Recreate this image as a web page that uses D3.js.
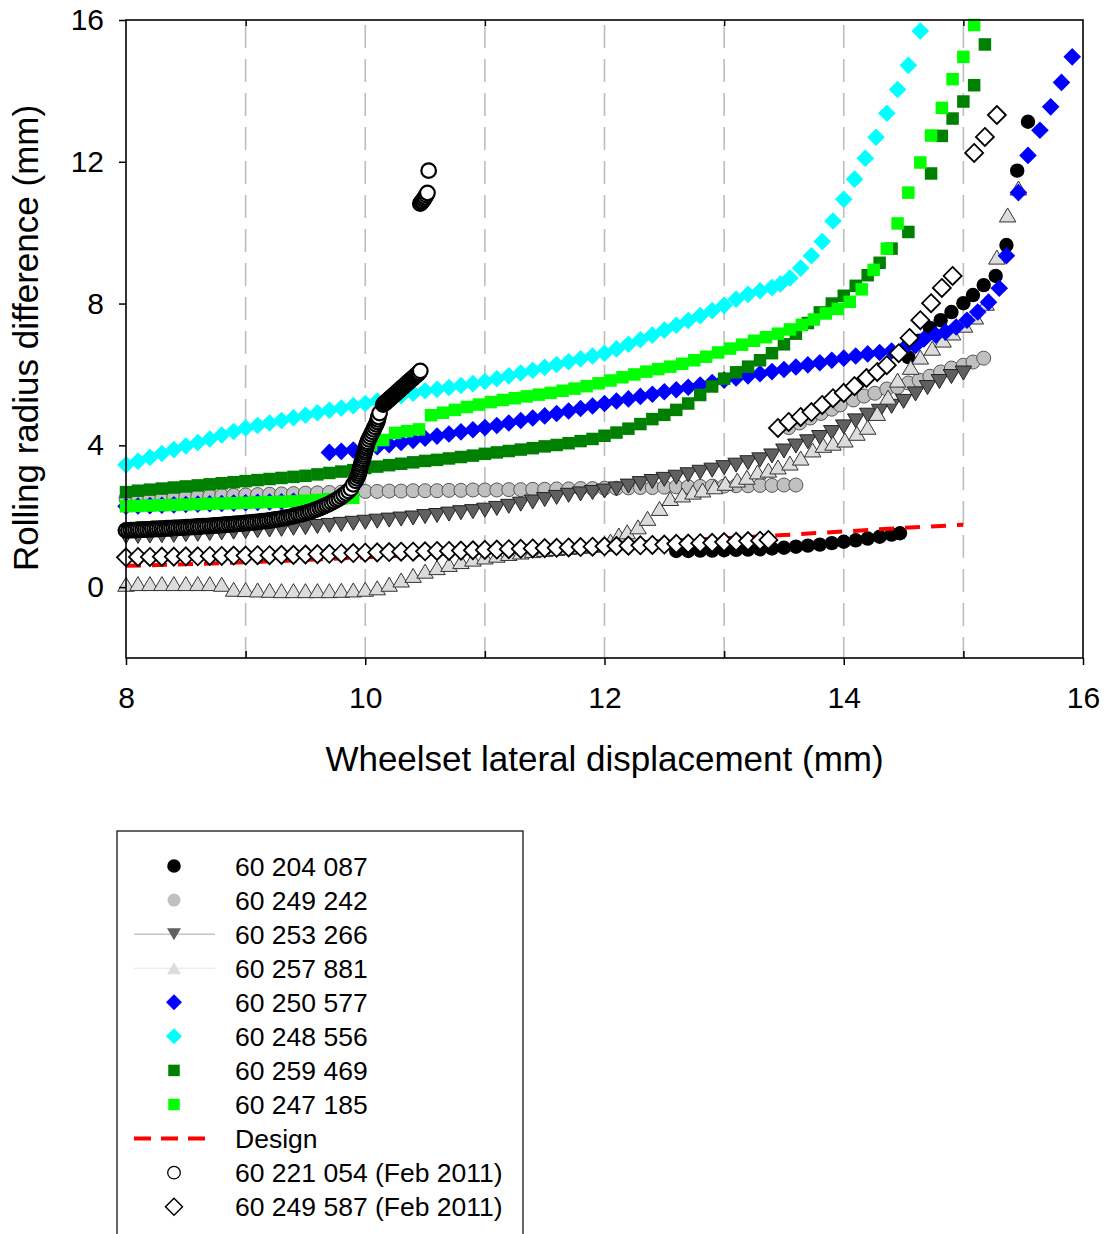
<!DOCTYPE html>
<html><head><meta charset="utf-8">
<script src="https://cdn.jsdelivr.net/npm/d3@7"></script>
<style>
body{margin:0;background:#fff}
svg{display:block}
text{font-family:"Liberation Sans",Arial,sans-serif;fill:#000}
</style>
</head><body>
<svg id="c" width="1109" height="1234"></svg>
<script>
// ---------- DATA ----------
const xTicks = [8, 10, 12, 14, 16];
const xMinorTicks = [9, 11, 13, 15];
const yTicks = [0, 4, 8, 12, 16];
const xTitle = "Wheelset lateral displacement (mm)";
const yTitle = "Rolling radius difference (mm)";
const legendLabels = ["60 204 087","60 249 242","60 253 266","60 257 881","60 250 577","60 248 556","60 259 469","60 247 185","Design","60 221 054 (Feb 2011)","60 249 587 (Feb 2011)"];

const s60204087 = [[12.6,1.02],[12.7,1.02],[12.8,1.03],[12.9,1.03],[13.0,1.04],[13.1,1.05],[13.2,1.06],[13.3,1.07],[13.4,1.09],[13.5,1.11],[13.6,1.14],[13.7,1.17],[13.8,1.2],[13.9,1.24],[14.0,1.28],[14.1,1.32],[14.2,1.37],[14.3,1.42],[14.4,1.48],[14.47,1.52],
[14.54,6.49],[14.63,6.95],[14.72,7.31],[14.81,7.53],[14.9,7.76],[15.0,8.01],[15.08,8.24],[15.17,8.52],[15.27,8.78],[15.36,9.65],[15.45,11.75],[15.54,13.13]];

const s60249242 = [[8.0,2.5],[8.1,2.51],[8.2,2.52],[8.3,2.53],[8.4,2.54],[8.5,2.55],[8.6,2.56],[8.7,2.57],[8.8,2.58],[8.9,2.59],[9.0,2.6],[9.1,2.61],[9.2,2.62],[9.3,2.63],[9.4,2.64],[9.5,2.65],[9.6,2.66],[9.7,2.67],[9.8,2.68],[9.9,2.69],[10.0,2.7],[10.1,2.7],[10.2,2.71],[10.3,2.71],[10.4,2.72],[10.5,2.72],[10.6,2.72],[10.7,2.73],[10.8,2.73],[10.9,2.74],[11.0,2.74],[11.1,2.74],[11.2,2.75],[11.3,2.75],[11.4,2.76],[11.5,2.76],[11.6,2.77],[11.7,2.77],[11.8,2.78],[11.9,2.78],[12.0,2.79],[12.1,2.79],[12.2,2.8],[12.3,2.81],[12.4,2.81],[12.5,2.82],[12.6,2.83],[12.7,2.83],[12.8,2.84],[12.9,2.85],[13.0,2.85],[13.1,2.86],[13.2,2.86],[13.3,2.87],[13.4,2.87],[13.5,2.88],[13.6,2.88],
[13.54,4.5],[13.63,4.63],[13.72,4.77],[13.81,4.9],[13.9,5.02],[13.97,5.14],[14.08,5.28],[14.17,5.39],[14.26,5.47],[14.36,5.59],[14.45,5.64],[14.54,5.76],[14.63,5.84],[14.72,5.95],[14.81,6.07],[14.9,6.18],[15.0,6.26],[15.08,6.35],[15.17,6.46]];

const s60253266 = [[8.0,1.42],[8.1,1.43],[8.2,1.44],[8.3,1.45],[8.4,1.46],[8.5,1.48],[8.6,1.49],[8.7,1.51],[8.8,1.53],[8.9,1.55],[9.0,1.57],[9.1,1.59],[9.2,1.61],[9.3,1.63],[9.4,1.66],[9.5,1.68],[9.6,1.71],[9.7,1.74],[9.8,1.77],[9.9,1.8],[10.0,1.83],[10.1,1.86],[10.2,1.89],[10.3,1.92],[10.4,1.95],[10.5,1.99],[10.6,2.02],[10.7,2.06],[10.8,2.1],[10.9,2.13],[11.0,2.17],[11.1,2.22],[11.2,2.28],[11.3,2.34],[11.4,2.4],[11.5,2.47],[11.6,2.53],[11.7,2.59],[11.8,2.63],[11.9,2.67],[12.0,2.71],[12.1,2.77],[12.2,2.85],[12.3,2.92],[12.4,2.98],[12.5,3.04],[12.6,3.1],[12.7,3.17],[12.8,3.24],[12.9,3.3],[13.0,3.37],[13.1,3.44],[13.2,3.51],[13.3,3.59],[13.4,3.7],[13.5,3.84],[13.6,3.98],[13.7,4.1],[13.8,4.22],[13.9,4.36],[14.0,4.52],[14.1,4.69],[14.2,4.85],[14.3,4.96],[14.4,5.1],[14.5,5.24],[14.6,5.45],[14.7,5.63],[14.8,5.8],[14.9,5.94],[15.0,6.04]];

const s60257881 = [[8.0,0.08],[8.1,0.1],[8.2,0.1],[8.3,0.1],[8.4,0.1],[8.5,0.1],[8.6,0.1],[8.7,0.1],[8.8,0.08],[8.9,-0.06],[9.0,-0.07],[9.1,-0.08],[9.2,-0.09],[9.3,-0.1],[9.4,-0.1],[9.5,-0.1],[9.6,-0.1],[9.7,-0.1],[9.8,-0.09],[9.9,-0.08],[10.0,-0.06],[10.1,-0.02],[10.2,0.08],[10.3,0.2],[10.4,0.33],[10.5,0.45],[10.6,0.55],[10.7,0.64],[10.8,0.72],[10.9,0.79],[11.0,0.85],[11.1,0.9],[11.2,0.95],[11.3,0.99],[11.4,1.03],[11.5,1.06],[11.6,1.09],[11.7,1.12],[11.8,1.15],[11.9,1.18],[12.0,1.21],[12.05,1.3],[12.12,1.47],[12.19,1.56],[12.28,1.7],[12.36,1.94],[12.46,2.22],[12.55,2.5],[12.65,2.6],[12.74,2.68],[12.82,2.74],[12.92,2.83],[13.01,2.93],[13.11,3.02],[13.19,3.1],[13.28,3.25],[13.37,3.3],[13.45,3.39],[13.55,3.5],[13.64,3.64],[13.74,3.87],[13.83,4.0],[13.91,4.06],[14.01,4.15],[14.11,4.34],[14.2,4.51],[14.28,4.9],[14.37,5.36],[14.45,5.84],[14.56,6.2],[14.64,6.49],[14.74,6.74],[14.83,6.97],[14.91,7.17],[15.01,7.39],[15.1,7.62],[15.19,8.01],[15.28,9.31],[15.37,10.5],[15.46,11.26]];

const s60250577 = [[8.0,2.28],[8.1,2.29],[8.2,2.3],[8.3,2.31],[8.4,2.32],[8.5,2.33],[8.6,2.34],[8.7,2.35],[8.8,2.36],[8.9,2.37],[9.0,2.38],[9.1,2.39],[9.2,2.4],[9.3,2.41],[9.4,2.42],
[9.7,3.8],[9.8,3.83],[9.9,3.87],[10.0,3.91],[10.1,3.96],[10.2,4.02],[10.3,4.08],[10.4,4.14],[10.5,4.2],[10.6,4.26],[10.7,4.32],[10.8,4.38],[10.9,4.44],[11.0,4.5],[11.1,4.56],[11.2,4.63],[11.3,4.7],[11.4,4.77],[11.5,4.83],[11.6,4.9],[11.7,4.97],[11.8,5.04],[11.9,5.11],[12.0,5.18],[12.1,5.25],[12.2,5.31],[12.3,5.38],[12.4,5.44],[12.5,5.51],[12.6,5.57],[12.7,5.64],[12.8,5.7],[12.9,5.77],[13.0,5.84],[13.1,5.9],[13.2,5.96],[13.3,6.02],[13.4,6.08],[13.5,6.14],[13.6,6.21],[13.7,6.27],[13.8,6.33],[13.9,6.4],[14.0,6.46],[14.1,6.52],[14.2,6.58],[14.3,6.62],[14.4,6.66],[14.5,6.72],[14.6,6.82],[14.67,7.0],[14.77,7.11],[14.85,7.2],[14.94,7.34],[15.03,7.53],[15.12,7.76],[15.21,8.04],[15.3,8.43],[15.36,9.35],[15.46,11.13],[15.54,12.18],[15.64,12.89],[15.73,13.55],[15.82,14.24],[15.91,14.96]];

const s60248556 = [[8.0,3.45],[8.1,3.55],[8.2,3.66],[8.3,3.77],[8.4,3.88],[8.5,3.98],[8.6,4.08],[8.7,4.18],[8.8,4.29],[8.9,4.39],[9.0,4.49],[9.1,4.56],[9.2,4.63],[9.3,4.7],[9.4,4.78],[9.5,4.85],[9.6,4.92],[9.7,4.99],[9.8,5.05],[9.9,5.12],[10.0,5.18],[10.1,5.25],[10.2,5.32],[10.3,5.4],[10.4,5.47],[10.5,5.54],[10.6,5.58],[10.7,5.63],[10.8,5.69],[10.9,5.74],[11.0,5.8],[11.1,5.88],[11.2,5.96],[11.3,6.04],[11.4,6.12],[11.5,6.2],[11.6,6.28],[11.7,6.36],[11.8,6.44],[11.9,6.52],[12.0,6.6],[12.1,6.72],[12.2,6.85],[12.3,6.98],[12.4,7.11],[12.5,7.25],[12.6,7.39],[12.7,7.52],[12.8,7.66],[12.9,7.8],[13.0,7.95],[13.1,8.12],[13.2,8.26],[13.3,8.36],[13.4,8.45],[13.47,8.55],[13.55,8.72],[13.64,9.0],[13.73,9.35],[13.82,9.75],[13.91,10.33],[14.0,10.94],[14.09,11.51],[14.18,12.1],[14.27,12.69],[14.36,13.37],[14.45,14.04],[14.54,14.72],[14.64,15.69]];

const s60259469 = [[8.0,2.68],[8.1,2.72],[8.2,2.75],[8.3,2.78],[8.4,2.81],[8.5,2.84],[8.6,2.87],[8.7,2.9],[8.8,2.93],[8.9,2.96],[9.0,2.99],[9.1,3.02],[9.2,3.05],[9.3,3.08],[9.4,3.11],[9.5,3.14],[9.6,3.18],[9.7,3.22],[9.8,3.26],[9.9,3.3],[10.0,3.36],[10.1,3.4],[10.2,3.44],[10.3,3.48],[10.4,3.52],[10.5,3.56],[10.6,3.59],[10.7,3.63],[10.8,3.67],[10.9,3.71],[11.0,3.76],[11.1,3.8],[11.2,3.84],[11.3,3.88],[11.4,3.92],[11.5,3.97],[11.6,4.01],[11.7,4.06],[11.8,4.12],[11.9,4.18],[12.0,4.27],[12.1,4.36],[12.2,4.47],[12.3,4.6],[12.4,4.74],[12.5,4.86],[12.6,5.0],[12.7,5.18],[12.8,5.42],[12.9,5.66],[13.0,5.88],[13.1,6.06],[13.2,6.22],[13.3,6.4],[13.4,6.6],[13.5,6.85],[13.6,7.15],[13.7,7.45],[13.8,7.75],[13.9,8.0],[14.0,8.22],[14.1,8.5],[14.2,8.8],[14.3,9.15],[14.4,9.55],[14.54,10.02],[14.73,11.67],[14.82,12.73],[14.91,13.22],[15.0,13.7],[15.09,14.16],[15.18,15.31]];

const s60247185 = [[8.0,2.28],[8.1,2.29],[8.2,2.3],[8.3,2.31],[8.4,2.32],[8.5,2.33],[8.6,2.34],[8.7,2.35],[8.8,2.36],[8.9,2.37],[9.0,2.38],[9.1,2.39],[9.2,2.4],[9.3,2.41],[9.4,2.42],[9.5,2.44],[9.6,2.46],[9.7,2.48],[9.8,2.5],[9.9,2.52],
[10.05,4.0],[10.15,4.15],[10.25,4.35],[10.35,4.4],[10.45,4.45],[10.55,4.85],[10.65,4.92],[10.75,5.0],[10.85,5.08],[10.95,5.15],[11.05,5.22],[11.15,5.28],[11.25,5.33],[11.35,5.38],[11.45,5.43],[11.55,5.48],[11.65,5.54],[11.75,5.6],[11.85,5.67],[11.95,5.75],[12.05,5.83],[12.15,5.92],[12.25,6.0],[12.35,6.08],[12.45,6.15],[12.55,6.22],[12.65,6.3],[12.75,6.4],[12.85,6.5],[12.95,6.62],[13.05,6.73],[13.15,6.84],[13.25,6.95],[13.35,7.05],[13.45,7.15],[13.55,7.27],[13.65,7.4],[13.75,7.55],[13.85,7.72],[13.95,7.85],[14.05,8.05],[14.15,8.4],[14.25,8.95],[14.36,9.55],[14.45,10.26],[14.54,11.13],[14.64,11.98],[14.73,12.74],[14.82,13.52],[14.91,14.33],[15.0,14.96],[15.09,15.86]];

const sDesign = [[8.0,0.6],[9.0,0.7],[10.0,0.84],[11.0,1.0],[12.0,1.2],[12.5,1.3],[13.0,1.38],[13.5,1.47],[14.0,1.57],[14.5,1.67],[15.0,1.76]];

const s60221054 = [[8.00,1.60],[8.02,1.60],[8.04,1.61],[8.06,1.61],[8.08,1.61],[8.10,1.62],[8.12,1.62],[8.14,1.62],[8.16,1.63],[8.18,1.63],[8.20,1.63],[8.22,1.64],[8.24,1.64],[8.26,1.64],[8.28,1.65],[8.30,1.65],[8.32,1.65],[8.34,1.66],[8.36,1.66],[8.38,1.66],[8.40,1.67],[8.42,1.67],[8.44,1.67],[8.46,1.68],[8.48,1.68],[8.50,1.69],[8.52,1.69],[8.54,1.69],[8.56,1.70],[8.58,1.70],[8.60,1.71],[8.62,1.71],[8.64,1.72],[8.66,1.72],[8.68,1.72],[8.70,1.73],[8.72,1.73],[8.74,1.74],[8.76,1.74],[8.78,1.75],[8.80,1.75],[8.82,1.76],[8.84,1.76],[8.86,1.77],[8.88,1.77],[8.90,1.78],[8.92,1.78],[8.94,1.79],[8.96,1.79],[8.98,1.80],[9.00,1.81],[9.02,1.81],[9.04,1.82],[9.06,1.83],[9.08,1.83],[9.10,1.84],[9.12,1.85],[9.14,1.86],[9.16,1.86],[9.18,1.87],[9.20,1.88],[9.22,1.89],[9.24,1.90],[9.26,1.91],[9.28,1.92],[9.30,1.93],[9.32,1.95],[9.34,1.96],[9.36,1.97],[9.38,1.99],[9.40,2.00],[9.42,2.02],[9.44,2.04],[9.46,2.05],[9.48,2.07],[9.50,2.09],[9.52,2.11],[9.54,2.13],[9.56,2.15],[9.58,2.18],[9.60,2.20],[9.62,2.23],[9.64,2.26],[9.66,2.29],[9.68,2.32],[9.70,2.35],[9.72,2.39],[9.74,2.42],[9.76,2.46],[9.78,2.50],[9.80,2.55],[9.82,2.60],[9.84,2.65],[9.86,2.71],[9.88,2.78],[9.90,2.90],
[9.92,3.00],[9.93,3.07],[9.94,3.14],[9.945,3.20],[9.95,3.26],[9.955,3.32],[9.96,3.38],[9.965,3.44],[9.97,3.50],[9.975,3.56],[9.98,3.62],[9.985,3.68],[9.99,3.74],[9.995,3.80],[10.00,3.86],[10.005,3.92],[10.01,3.98],[10.015,4.04],[10.02,4.10],[10.03,4.17],[10.04,4.24],[10.05,4.31],[10.06,4.38],[10.07,4.45],[10.08,4.52],[10.09,4.59],[10.10,4.66],[10.105,4.73],[10.11,4.80],[10.12,4.91],
[10.15,5.15],[10.16,5.18],[10.17,5.21],[10.18,5.24],[10.19,5.27],[10.20,5.30],[10.21,5.33],[10.22,5.36],[10.23,5.39],[10.24,5.42],[10.25,5.45],[10.26,5.48],[10.27,5.51],[10.28,5.54],[10.29,5.57],[10.30,5.60],[10.31,5.63],[10.32,5.66],[10.33,5.69],[10.34,5.72],[10.35,5.75],[10.36,5.78],[10.37,5.81],[10.38,5.84],[10.39,5.87],[10.40,5.90],[10.41,5.93],[10.42,5.96],[10.43,5.99],[10.44,6.02],[10.45,6.05],[10.46,6.10],
[10.46,10.82],[10.47,10.86],[10.48,10.90],[10.49,10.95],[10.50,11.00],[10.51,11.06],[10.52,11.12],[10.53,11.75]];

const s60249587 = [[8.0,0.84],[8.1,0.85],[8.2,0.85],[8.3,0.86],[8.4,0.86],[8.5,0.87],[8.6,0.87],[8.7,0.88],[8.8,0.88],[8.9,0.89],[9.0,0.89],[9.1,0.9],[9.2,0.9],[9.3,0.91],[9.4,0.91],[9.5,0.92],[9.6,0.93],[9.7,0.94],[9.8,0.95],[9.9,0.96],[10.0,0.97],[10.1,0.98],[10.2,0.99],[10.3,1.0],[10.4,1.0],[10.5,1.01],[10.6,1.02],[10.7,1.02],[10.8,1.03],[10.9,1.04],[11.0,1.05],[11.1,1.06],[11.2,1.07],[11.3,1.08],[11.4,1.09],[11.5,1.1],[11.6,1.11],[11.7,1.12],[11.8,1.13],[11.9,1.14],[12.0,1.15],[12.1,1.16],[12.2,1.17],[12.3,1.18],[12.4,1.19],[12.5,1.2],[12.6,1.22],[12.7,1.23],[12.8,1.24],[12.9,1.25],[13.0,1.27],[13.1,1.28],[13.2,1.3],[13.3,1.31],[13.37,1.33],
[13.45,4.49],[13.54,4.66],[13.64,4.8],[13.73,4.94],[13.82,5.14],[13.91,5.33],[14.0,5.48],[14.09,5.67],[14.19,5.9],[14.28,6.07],[14.36,6.26],[14.46,6.6],[14.55,7.03],[14.64,7.53],[14.73,8.01],[14.82,8.44],[14.91,8.78],[15.09,12.25],[15.18,12.7],[15.28,13.32]];

// ---------- CHART ----------
const svg = d3.select("#c");
const X0 = 126, X1 = 1083, Y0 = 658, Y1 = 20;
const x = d3.scaleLinear().domain([8, 16]).range([X0, X1]);
const y = d3.scaleLinear().domain([-2, 16]).range([Y0, Y1]);

// shapes
const diamond = h => `M0,${-h}L${h},0L0,${h}L${-h},0Z`;
const square = s => `M${-s/2},${-s/2}h${s}v${s}h${-s}Z`;
const triDown = (w,h) => `M${-w/2},${-h/2}L${w/2},${-h/2}L0,${h/2}Z`;
const triUp = (w,h) => `M0,${-h/2}L${w/2},${h/2}L${-w/2},${h/2}Z`;
const circle = r => `M${r},0A${r},${r} 0 1,1 ${-r},0A${r},${r} 0 1,1 ${r},0Z`;

// gridlines
svg.append("g").selectAll("line").data(xMinorTicks.concat([10,12,14])).join("line")
  .attr("x1", d => x(d)).attr("x2", d => x(d)).attr("y1", Y1).attr("y2", Y0)
  .attr("stroke", "#bdbdbd").attr("stroke-width", 1.6)
  .attr("stroke-dasharray", "23,11").attr("stroke-dashoffset", 29);

function drawSeries(data, path, fill, stroke, sw) {
  svg.append("g").selectAll("path").data(data).join("path")
    .attr("d", path)
    .attr("transform", d => `translate(${x(d[0])},${y(d[1])})`)
    .attr("fill", fill).attr("stroke", stroke || "none").attr("stroke-width", sw || 0);
}

drawSeries(s60204087, circle(7.2), "#000", null);
drawSeries(s60249242, circle(7), "#c0c0c0", "#555", 1);
drawSeries(s60253266, triDown(16.5, 14), "#606060", "#222", 1);
drawSeries(s60257881, triUp(16.5, 14), "#dcdcdc", "#333", 1);
drawSeries(s60250577, diamond(8.8), "#0000ff", null);
drawSeries(s60248556, diamond(8.8), "#00ffff", null);
drawSeries(s60259469, square(12.5), "#008000", null);
drawSeries(s60247185, square(12.5), "#00ff00", null);

svg.append("path").datum(sDesign)
  .attr("d", d3.line().x(d => x(d[0])).y(d => y(d[1])).curve(d3.curveMonotoneX))
  .attr("fill", "none").attr("stroke", "#ff0000").attr("stroke-width", 4)
  .attr("stroke-dasharray", "15,11");

drawSeries(s60221054, circle(7.3), "#fff", "#000", 2.2);
drawSeries(s60249587, diamond(9), "#fff", "#000", 1.8);

// frame
svg.append("rect").attr("x", X0).attr("y", Y1).attr("width", X1 - X0).attr("height", Y0 - Y1)
  .attr("fill", "none").attr("stroke", "#000").attr("stroke-width", 1.6);

// axes
const fs = 30;
const gx = svg.append("g").attr("transform", `translate(0,${Y0})`)
  .call(d3.axisBottom(x).tickValues(xTicks).tickSize(7).tickSizeOuter(0).tickPadding(22).tickFormat(d3.format("d")));
const gxm = svg.append("g").attr("transform", `translate(0,${Y0})`)
  .call(d3.axisBottom(x).tickValues(xMinorTicks).tickSize(-7).tickSizeOuter(0).tickFormat(""));
const gxt = svg.append("g").attr("transform", `translate(0,${Y1})`)
  .call(d3.axisTop(x).tickValues(xMinorTicks).tickSize(-6).tickSizeOuter(0).tickFormat(""));
const gy = svg.append("g").attr("transform", `translate(${X0},0)`)
  .call(d3.axisLeft(y).tickValues(yTicks).tickSize(7).tickSizeOuter(0).tickPadding(15).tickFormat(d3.format("d")));
[gx, gxm, gxt, gy].forEach(g => {
  g.select(".domain").remove();
  g.selectAll(".tick line").attr("stroke", "#000").attr("stroke-width", 1.5);
  g.selectAll("text").attr("font-size", fs).attr("font-family", "Liberation Sans, Arial, sans-serif").attr("fill", "#000");
});

svg.append("text").attr("x", (X0 + X1) / 2).attr("y", 771).attr("text-anchor", "middle")
  .attr("font-size", 35).text(xTitle);
svg.append("text").attr("transform", `translate(38,338) rotate(-90)`).attr("text-anchor", "middle")
  .attr("font-size", 35).text(yTitle);

// legend
const lg = svg.append("g");
lg.append("rect").attr("x", 117).attr("y", 831).attr("width", 406).attr("height", 500)
  .attr("fill", "#fff").attr("stroke", "#000").attr("stroke-width", 1.2);
const legendY = i => 866 + i * 34.07;
const sx = 174;
const legendSym = [
  g => g.append("path").attr("d", circle(6.8)).attr("fill", "#000"),
  g => g.append("path").attr("d", circle(6.5)).attr("fill", "#c0c0c0"),
  g => { g.append("line").attr("x1", 134 - sx).attr("x2", 215 - sx).attr("stroke", "#a8a8a8").attr("stroke-width", 1);
         g.append("path").attr("d", triDown(14, 12)).attr("fill", "#606060"); },
  g => { g.append("line").attr("x1", 134 - sx).attr("x2", 215 - sx).attr("stroke", "#e4e4e4").attr("stroke-width", 1);
         g.append("path").attr("d", triUp(14, 12)).attr("fill", "#dcdcdc"); },
  g => g.append("path").attr("d", diamond(8)).attr("fill", "#0000ff"),
  g => g.append("path").attr("d", diamond(8)).attr("fill", "#00ffff"),
  g => g.append("path").attr("d", square(11.5)).attr("fill", "#008000"),
  g => g.append("path").attr("d", square(11.5)).attr("fill", "#00ff00"),
  g => g.append("line").attr("x1", 134 - sx).attr("x2", 205 - sx).attr("stroke", "#ff0000").attr("stroke-width", 4).attr("stroke-dasharray", "17,10"),
  g => g.append("path").attr("d", circle(6.3)).attr("fill", "#fff").attr("stroke", "#000").attr("stroke-width", 1.3),
  g => g.append("path").attr("d", diamond(8.5)).attr("fill", "#fff").attr("stroke", "#000").attr("stroke-width", 1.5)
];
legendLabels.forEach((lab, i) => {
  const g = lg.append("g").attr("transform", `translate(${sx},${legendY(i)})`);
  legendSym[i](g);
  lg.append("text").attr("x", 235).attr("y", legendY(i)).attr("dy", "0.36em")
    .attr("font-size", 26.5).text(lab);
});
</script>
</body></html>
